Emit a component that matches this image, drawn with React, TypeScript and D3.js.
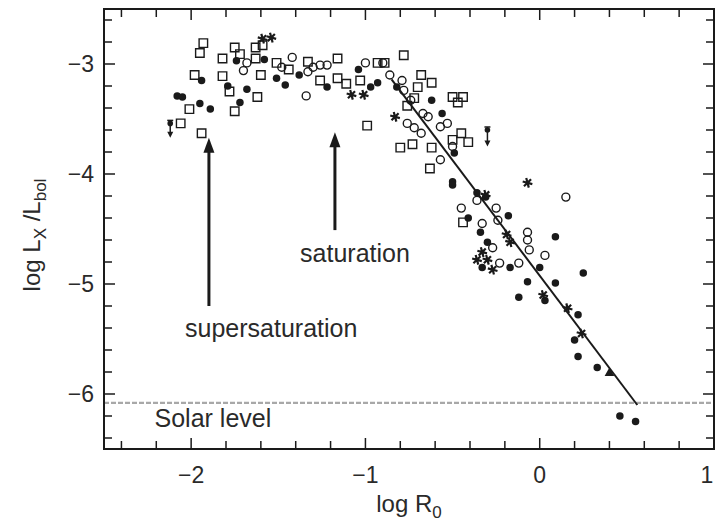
import * as d3 from "d3";

// log Ro vs log Lx/Lbol
type Pt = [number, number];

const openSquares: Pt[] = [
  [-1.93, -2.81], [-1.95, -2.9], [-1.75, -2.85], [-1.63, -2.85], [-1.59, -2.83],
  [-1.82, -2.95], [-1.72, -2.91], [-1.63, -2.95], [-1.51, -2.99], [-1.44, -3.05],
  [-1.98, -3.1], [-1.82, -3.11], [-1.6, -3.1], [-1.78, -3.25], [-1.62, -3.3],
  [-2.01, -3.41], [-1.75, -3.43], [-2.06, -3.54], [-1.94, -3.63], [-1.33, -2.98],
  [-1.16, -2.95], [-1.26, -3.15], [-1.16, -3.13], [-1.11, -3.18], [-1.03, -3.15],
  [-0.93, -2.99], [-0.89, -2.99], [-0.99, -3.56], [-0.78, -2.92], [-0.68, -3.1],
  [-0.62, -3.17], [-0.7, -3.21], [-0.72, -3.31], [-0.76, -3.38], [-0.5, -3.3],
  [-0.47, -3.35], [-0.44, -3.3], [-0.8, -3.76], [-0.73, -3.73], [-0.62, -3.76],
  [-0.5, -3.69], [-0.45, -3.63], [-0.41, -3.71], [-0.63, -3.95], [-0.44, -4.44],
];

const filledCircles: Pt[] = [
  [-1.74, -2.97], [-1.58, -2.96], [-1.94, -3.15], [-1.79, -3.2], [-1.68, -3.23],
  [-1.51, -3.13], [-1.46, -3.19], [-2.08, -3.29], [-2.05, -3.3], [-1.95, -3.36],
  [-1.89, -3.41], [-1.72, -3.35], [-1.38, -3.1], [-1.22, -3.21], [-1.04, -3.05],
  [-0.97, -3.21], [-0.93, -3.17], [-0.82, -3.21], [-0.62, -3.33], [-0.56, -3.45],
  [-0.49, -3.81], [-0.5, -4.07], [-0.36, -4.17], [-0.31, -4.21], [-0.5, -4.1],
  [-0.41, -4.4], [-0.34, -4.53], [-0.18, -4.38], [0.09, -4.57], [-0.33, -4.85],
  [-0.17, -4.85], [-0.07, -4.98], [0.25, -4.9], [0.09, -4.99], [-0.12, -5.12],
  [0.03, -5.15], [0.22, -5.28], [0.2, -5.51], [0.22, -5.66], [0.33, -5.76],
  [0.46, -6.2], [0.55, -6.25], [0.0, -4.85], [-0.3, -4.62],
];

const openCircles: Pt[] = [
  [-1.68, -2.99], [-1.7, -3.06], [-1.48, -3.03], [-1.42, -2.94], [-1.34, -3.29],
  [-1.3, -3.03], [-1.0, -2.99], [-0.9, -2.99], [-0.86, -3.1], [-0.79, -3.15],
  [-0.78, -3.24], [-0.67, -3.45], [-0.64, -3.48], [-0.76, -3.54], [-0.72, -3.58],
  [-0.68, -3.63], [-0.57, -3.57], [-0.53, -3.54], [-0.5, -3.75], [-0.57, -3.87],
  [0.15, -4.21], [-0.45, -4.31], [-0.33, -4.45], [-0.36, -4.24], [-0.25, -4.31],
  [-0.24, -4.42], [-0.07, -4.53], [-0.07, -4.6], [-0.27, -4.67], [-0.23, -4.81],
  [-0.12, -4.81], [-0.06, -4.69], [0.03, -4.74], [-1.26, -3.01], [-1.22, -3.01],
  [-1.33, -3.07], [-0.74, -3.33],
];

const stars: Pt[] = [
  [-1.59, -2.77], [-1.54, -2.76], [-1.08, -3.28], [-1.01, -3.28], [-0.83, -3.48],
  [-0.07, -4.08], [-0.19, -4.55], [-0.17, -4.62], [-0.33, -4.71], [-0.36, -4.78],
  [-0.3, -4.78], [-0.27, -4.87], [0.02, -5.1], [0.16, -5.22], [0.24, -5.45],
  [-0.31, -4.19],
];

const triangles: Pt[] = [[0.4, -5.81]];

// upper limits: [logRo, value, arrow end]
const limits: [number, number, number][] = [
  [-2.12, -3.54, -3.67],
  [-0.3, -3.6, -3.75],
];

const fitLine: Pt[] = [[-0.85, -3.14], [0.56, -6.1]];
const solarLevel = -6.08;

const xTicks = [-2, -1, 0, 1];
const yTicks = [-3, -4, -5, -6];

const W = 716;
const H = 524;
const INK = "#1a1a1a";
const FONT = "'Liberation Sans', Arial, sans-serif";

export default function App() {
  const x = d3.scaleLinear().domain([-2.5, 1]).range([104, 714]);
  const y = d3.scaleLinear().domain([-6.5, -2.5]).range([449, 9]);
  const [x0, x1] = x.range();
  const [y0, y1] = y.range();

  const xMinor = d3.range(-2.4, 1.0, 0.2).map((v) => +v.toFixed(1));
  const yMinor = d3.range(-6.4, -2.5, 0.2).map((v) => +v.toFixed(1));

  const squarePath = d3.symbol().type(d3.symbolSquare).size(72)()!;
  const circlePath = d3.symbol().type(d3.symbolCircle).size(44)()!;
  const openCirclePath = d3.symbol().type(d3.symbolCircle).size(50)()!;
  const starPath = d3.symbol().type(d3.symbolAsterisk).size(70)()!;
  const triPath = d3.symbol().type(d3.symbolTriangle).size(40)()!;

  const line = d3
    .line<Pt>()
    .x((d) => x(d[0]))
    .y((d) => y(d[1]));

  const arrow = (ax: number, from: number, to: number, key: string) => {
    const px = x(ax);
    const pb = y(from);
    const pt = y(to);
    return (
      <g key={key}>
        <line x1={px} x2={px} y1={pb} y2={pt + 12} stroke={INK} strokeWidth={3} />
        <path d={`M${px},${pt} L${px - 5.5},${pt + 15} L${px + 5.5},${pt + 15} Z`} fill={INK} />
      </g>
    );
  };

  return (
    <svg
      width={W}
      height={H}
      style={{ position: "fixed", left: 0, top: 0, background: "#fff" }}
      fontFamily={FONT}
    >
      <rect width={W} height={H} fill="#fff" />

      {/* solar level */}
      <line
        x1={x0}
        x2={x1}
        y1={y(solarLevel)}
        y2={y(solarLevel)}
        stroke="#a8a8a8"
        strokeWidth={2.2}
        strokeDasharray="5,2"
      />
      <text x={x(-2.21)} y={y(-6.3)} fontSize={25} fill="#2a2a2a">
        Solar level
      </text>

      {/* fit */}
      <path d={line(fitLine)!} fill="none" stroke={INK} strokeWidth={2} />

      {/* points */}
      {openSquares.map((d, i) => (
        <path key={"s" + i} d={squarePath} transform={`translate(${x(d[0])},${y(d[1])})`}
          fill="none" stroke={INK} strokeWidth={1.4} />
      ))}
      {openCircles.map((d, i) => (
        <path key={"o" + i} d={openCirclePath} transform={`translate(${x(d[0])},${y(d[1])})`}
          fill="none" stroke={INK} strokeWidth={1.4} />
      ))}
      {filledCircles.map((d, i) => (
        <path key={"f" + i} d={circlePath} transform={`translate(${x(d[0])},${y(d[1])})`}
          fill={INK} />
      ))}
      {stars.map((d, i) => (
        <path key={"a" + i} d={starPath} transform={`translate(${x(d[0])},${y(d[1])}) rotate(45)`}
          fill="none" stroke={INK} strokeWidth={2.2} />
      ))}
      {triangles.map((d, i) => (
        <path key={"t" + i} d={triPath} transform={`translate(${x(d[0])},${y(d[1])})`} fill={INK} />
      ))}
      {limits.map((d, i) => {
        const px = x(d[0]);
        const pa = y(d[1]);
        const pb = y(d[2]);
        return (
          <g key={"l" + i}>
            <line x1={px - 3} x2={px + 3} y1={pa - 3} y2={pa - 3} stroke={INK} strokeWidth={1.5} />
            <circle cx={px} cy={pa} r={2.8} fill={INK} />
            <line x1={px} x2={px} y1={pa - 3} y2={pb - 3} stroke={INK} strokeWidth={1.5} />
            <path d={`M${px},${pb} L${px - 3},${pb - 6} L${px + 3},${pb - 6} Z`} fill={INK} />
          </g>
        );
      })}

      {/* annotations */}
      {arrow(-1.898, -5.2, -3.67, "sup")}
      {arrow(-1.175, -4.51, -3.62, "sat")}
      <text x={x(-1.375)} y={y(-4.8)} fontSize={25} fill="#2a2a2a">
        saturation
      </text>
      <text x={x(-2.035)} y={y(-5.48)} fontSize={25} fill="#2a2a2a">
        supersaturation
      </text>

      {/* frame and ticks */}
      <rect x={x0} y={y1} width={x1 - x0} height={y0 - y1} fill="none" stroke={INK} strokeWidth={2} />
      {xMinor.map((v) => {
        const len = xTicks.includes(v) ? 11 : 8;
        return (
          <g key={"xt" + v}>
            <line x1={x(v)} x2={x(v)} y1={y0} y2={y0 - len} stroke={INK} strokeWidth={1.5} />
            <line x1={x(v)} x2={x(v)} y1={y1} y2={y1 + len} stroke={INK} strokeWidth={1.5} />
          </g>
        );
      })}
      {yMinor.map((v) => {
        const len = yTicks.includes(v) ? 11 : 8;
        return (
          <g key={"yt" + v}>
            <line x1={x0} x2={x0 + len} y1={y(v)} y2={y(v)} stroke={INK} strokeWidth={1.5} />
            <line x1={x1} x2={x1 - len} y1={y(v)} y2={y(v)} stroke={INK} strokeWidth={1.5} />
          </g>
        );
      })}

      {xTicks.map((v) => (
        <text key={"xl" + v} x={Math.min(x(v), 707)} y={483} textAnchor="middle" fontSize={23} fill="#2a2a2a">
          {v < 0 ? "\u2212" + Math.abs(v) : v}
        </text>
      ))}
      {yTicks.map((v) => (
        <text key={"yl" + v} x={94} y={y(v)} dy="0.36em" textAnchor="end" fontSize={23} fill="#2a2a2a">
          {"\u2212" + Math.abs(v)}
        </text>
      ))}

      {/* axis titles */}
      <text x={(x0 + x1) / 2} y={512} textAnchor="middle" fontSize={24} fill="#2a2a2a">
        log R<tspan fontSize={17} dy={6}>0</tspan>
      </text>
      <text
        transform={`translate(40, 235) rotate(-90)`}
        textAnchor="middle"
        fontSize={24}
        fill="#2a2a2a"
      >
        log L<tspan fontSize={17} dy={6}>X</tspan>
        <tspan dy={-6}> /L</tspan>
        <tspan fontSize={17} dy={6}>bol</tspan>
      </text>
    </svg>
  );
}
